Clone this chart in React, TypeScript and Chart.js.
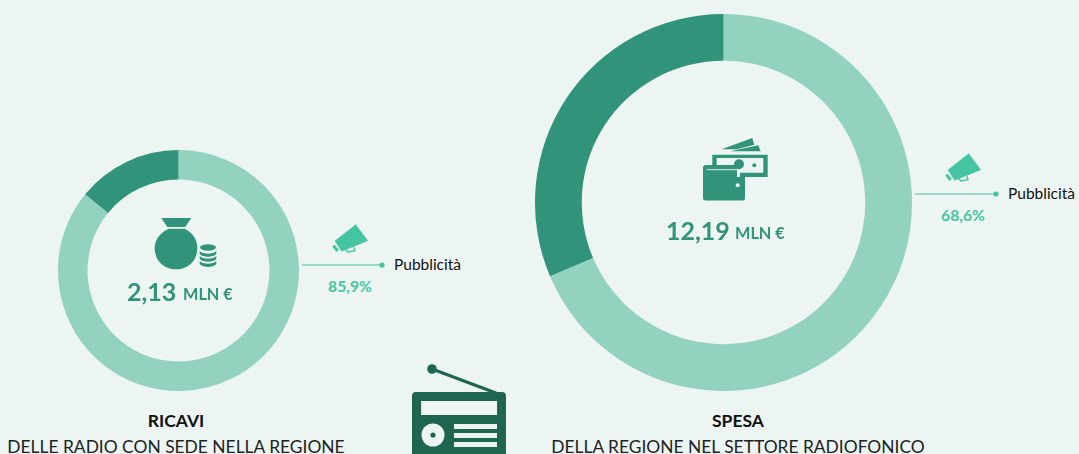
import React, { useEffect, useRef } from "react";
import { Chart, registerables } from "chart.js";

Chart.register(...registerables);

const ricaviValues = [85.9, 14.1];
const spesaValues = [68.6, 31.4];
const ricaviAmount = "2,13";
const spesaAmount = "12,19";
const amountUnit = "MLN €";
const sliceLabel = "Pubblicità";
const ricaviShare = "85,9%";
const spesaShare = "68,6%";
const ricaviTitle = ["RICAVI", "DELLE RADIO CON SEDE NELLA REGIONE"];
const spesaTitle = ["SPESA", "DELLA REGIONE NEL SETTORE RADIOFONICO"];

const BG = "#edf5f2";
const LIGHT = "#92d2be";
const DARK = "#31937a";
const MINT = "#45c4a1";
const RADIO = "#1f6650";
const FONT = "Lato, 'Open Sans', sans-serif";

function Donut({ values, left, top, size, cutout }: { values: number[]; left: number; top: number; size: number; cutout: string }) {
  const ref = useRef<HTMLCanvasElement>(null);
  useEffect(() => {
    const chart = new Chart(ref.current!, {
      type: "doughnut",
      data: {
        labels: [sliceLabel, "Altro"],
        datasets: [{ data: values, backgroundColor: [LIGHT, DARK], borderWidth: 0 }],
      },
      options: {
        animation: false,
        responsive: false,
        cutout,
        layout: { padding: 0 },
        plugins: { legend: { display: false }, tooltip: { enabled: false } },
      },
    });
    return () => chart.destroy();
  }, []);
  return (
    <canvas
      ref={ref}
      width={size}
      height={size}
      style={{ position: "absolute", left, top, width: size, height: size, display: "block" }}
    />
  );
}

function Label({ x, y, size, color, bold, anchor = "center", children }: any) {
  const tx = anchor === "center" ? "-50%" : anchor === "right" ? "-100%" : "0";
  return (
    <div
      style={{
        position: "absolute",
        left: x,
        top: y,
        transform: `translate(${tx}, -50%)`,
        fontFamily: FONT,
        fontSize: size,
        fontWeight: bold ? 700 : 400,
        color,
        whiteSpace: "nowrap",
        lineHeight: 1,
      }}
    >
      {children}
    </div>
  );
}

function Megaphone({ x, y }: { x: number; y: number }) {
  return (
    <svg style={{ position: "absolute", left: x, top: y }} width={37} height={30} viewBox="0 0 37 30">
      <path d="M3 17 L23.700 0.700 L35.700 16.700 L9.700 27.300 Z" fill={MINT} stroke={MINT} strokeWidth={0.6} strokeLinejoin="round" />
      <path d="M0.300 22.300 L2.300 20.700 L7 25.700 L4.300 28 Z" fill={MINT} />
      <path d="M14 25.500 L15.700 28 L23 26.700 L21.700 23" fill="none" stroke={MINT} strokeWidth={1.4} />
    </svg>
  );
}

function Connector({ x1, x2, y }: { x1: number; x2: number; y: number }) {
  return (
    <svg style={{ position: "absolute", left: x1, top: y - 4 }} width={x2 - x1 + 4} height={8}>
      <line x1={0} x2={x2 - x1} y1={4} y2={4} stroke={MINT} strokeWidth={1} />
      <circle cx={x2 - x1} cy={4} r={2.6} fill={MINT} />
    </svg>
  );
}

function MoneyBag() {
  return (
    <svg style={{ position: "absolute", left: 150, top: 214 }} width={70} height={58} viewBox="150 214 70 58">
      <path d="M161.300 218 H191.300 L185.300 227 H167.300 Z" fill={DARK} />
      <path d="M168.700 228.700 H184.700 C192 232 197.300 239 197.300 248 C197.300 261 188 269.300 176 269.300 C164 269.300 154.700 261 154.700 248 C154.700 239 161 232 168.700 228.700 Z" fill={DARK} />
      <ellipse cx={208} cy={247.500} rx={8} ry={3.200} fill={DARK} />
      <path d="M199.700 251 C203 254.500 213 254.500 216.300 251 V254 C213 257.500 203 257.500 199.700 254 Z" fill={DARK} />
      <path d="M199.700 256 C203 259.500 213 259.500 216.300 256 V259 C213 262.500 203 262.500 199.700 259 Z" fill={DARK} />
      <path d="M199.700 261 C203 264.500 213 264.500 216.300 261 V264 C213 268 203 268 199.700 264 Z" fill={DARK} />
    </svg>
  );
}

function Wallet() {
  return (
    <svg style={{ position: "absolute", left: 700, top: 135 }} width={70} height={70} viewBox="700 135 70 70">
      <path d="M721.700 149.300 L752.300 138 L754.300 144.700 L736.700 149.300 Z" fill={DARK} />
      <path d="M730 151.300 L758.300 145.300 L760.700 151.300 Z" fill={DARK} />
      <path d="M712.300 165 V154.700 H767.700 V177 H740 V172.700 H763.300 V158 H716.700 V165 Z" fill={DARK} />
      <circle cx={739} cy={164.300} r={5} fill={DARK} />
      <circle cx={754.300} cy={165.300} r={2} fill={DARK} />
      <path d="M703 168 Q703 165 706 165 H737 V177 H745 V198 Q745 200.500 743 200.500 H706 Q703 200.500 703 198 Z" fill={DARK} />
      <line x1={706.500} x2={738} y1={169.700} y2={169.700} stroke={BG} strokeWidth={0.9} />
      <circle cx={737.700} cy={185.300} r={2} fill={BG} />
    </svg>
  );
}

function RadioIcon() {
  return (
    <svg style={{ position: "absolute", left: 405, top: 360 }} width={108} height={94} viewBox="405 360 108 94">
      <line x1={432} y1={369} x2={496} y2={393} stroke={RADIO} strokeWidth={3.4} />
      <circle cx={432} cy={369} r={4.8} fill={RADIO} />
      <path
        fillRule="evenodd"
        fill={RADIO}
        d="M416 392 H502 A4 4 0 0 1 506 396 V454 H412 V396 A4 4 0 0 1 416 392 Z M421 401 V415 H497 V401 Z M454 424 V429 H497 V424 Z M454 433 V438 H497 V433 Z M454 442 V447 H497 V442 Z"
      />
      <circle cx={433} cy={435} r={11.500} fill={BG} />
      <circle cx={433} cy={435} r={2.600} fill={RADIO} />
    </svg>
  );
}

export default function App() {
  return (
    <div style={{ position: "fixed", left: 0, top: 0, width: 1079, height: 454, background: BG, overflow: "hidden" }}>
      <Donut values={ricaviValues} left={58} top={150} size={241} cutout="75.5%" />
      <Donut values={spesaValues} left={535} top={14} size={377} cutout="75.2%" />

      <MoneyBag />
      <Wallet />
      <RadioIcon />

      <Label x={127} y={291} size={25} color={DARK} bold anchor="left">{ricaviAmount}</Label>
      <Label x={183} y={294} size={16.3} color={DARK} bold anchor="left">{amountUnit}</Label>
      <Label x={666} y={230} size={25} color={DARK} bold anchor="left">{spesaAmount}</Label>
      <Label x={735} y={233} size={16.3} color={DARK} bold anchor="left">{amountUnit}</Label>

      <Megaphone x={332} y={224} />
      <Connector x1={302} x2={382} y={265} />
      <Label x={394} y={265} size={15.5} color="#111" anchor="left">{sliceLabel}</Label>
      <Label x={350} y={287} size={15.7} color={MINT} bold>{ricaviShare}</Label>

      <Megaphone x={945} y={153} />
      <Connector x1={915} x2={996} y={194} />
      <Label x={1008} y={194} size={15.5} color="#111" anchor="left">{sliceLabel}</Label>
      <Label x={963} y={216} size={15.7} color={MINT} bold>{spesaShare}</Label>

      <Label x={176} y={421} size={17.5} color="#111" bold>{ricaviTitle[0]}</Label>
      <Label x={176} y={447} size={17.4} color="#222">{ricaviTitle[1]}</Label>
      <Label x={738} y={421} size={17.5} color="#111" bold>{spesaTitle[0]}</Label>
      <Label x={738} y={447} size={17.4} color="#222">{spesaTitle[1]}</Label>
    </div>
  );
}
